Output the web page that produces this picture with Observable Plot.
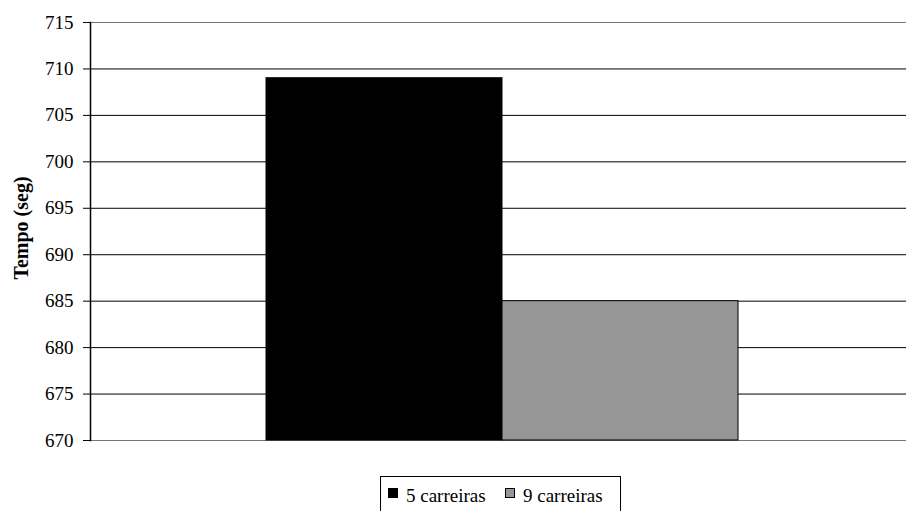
<!DOCTYPE html>
<html>
<head>
<meta charset="utf-8">
<script src="https://cdn.jsdelivr.net/npm/d3@7"></script>
<script src="https://cdn.jsdelivr.net/npm/@observablehq/plot@0.6"></script>
<style>
  body { margin: 0; background: #fff; }
  #wrap { position: relative; width: 906px; height: 511px; overflow: hidden; font-family: "Liberation Serif", "Times New Roman", "DejaVu Serif", serif; }
  #wrap svg, #wrap svg text { font-family: "Liberation Serif", "Times New Roman", "DejaVu Serif", serif !important; }
  #legend { position: absolute; left: 380px; top: 476px; width: 241px; height: 40px; border: 1px solid #000; box-sizing: border-box; font-size: 19px; color: #000; white-space: nowrap; }
  #legend span.sw { display: inline-block; width: 10px; height: 10px; border: 1px solid #000; box-sizing: border-box; margin-right: 8px; vertical-align: 4px; }
  #legend .item { position: absolute; top: 9px; line-height: 19px; }
</style>
</head>
<body>
<div id="wrap">
  <div id="chart"></div>
  <div id="legend"></div>
</div>
<script>
const categories = ["5 carreiras", "9 carreiras"];
const values = [709, 685];
const colors = ["#000000", "#969696"];
const yTicks = [670, 675, 680, 685, 690, 695, 700, 705, 710, 715];
const yLabel = "Tempo (seg)";

const data = categories.map((c, i) => ({category: c, value: values[i]}));

const chart = Plot.plot({
  width: 906,
  height: 450,
  marginTop: 22,
  marginBottom: 10,
  marginLeft: 90,
  marginRight: 0,
  style: {fontFamily: "'Liberation Serif', 'Times New Roman', serif", fontSize: "19px", color: "#000", background: "#fff"},
  x: {domain: categories, paddingInner: 0, paddingOuter: 0.722, align: 0.512, axis: null},
  y: {domain: [670, 715], ticks: yTicks, label: null},
  color: {domain: categories, range: colors},
  marks: [
    Plot.ruleY(yTicks, {stroke: d => (d === 670 || d === 715) ? "#777" : "#000", strokeWidth: 1}),
    Plot.barY(data, {x: "category", y1: 670, y2: "value", fill: "category", stroke: "#000", strokeWidth: 1, inset: 0}),
    Plot.frame({anchor: "left", stroke: "#000", strokeWidth: 1.5}),
    Plot.axisY({ticks: yTicks, tickSize: 7, tickPadding: 10, label: null, fontSize: 19}),
  ]
});
document.getElementById("chart").appendChild(chart);

// Rotated y-axis title
const svg = d3.select(chart);
svg.append("text")
  .attr("transform", `translate(28, ${(22 + 440) / 2 - 3}) rotate(-90)`)
  .attr("text-anchor", "middle")
  .attr("font-weight", "bold")
  .attr("font-size", 20)
  .attr("fill", "#000")
  .text(yLabel);

// Legend
const legend = d3.select("#legend");
const offsets = [7, 124];
categories.forEach((c, i) => {
  const it = legend.append("div").attr("class", "item").style("left", offsets[i] + "px");
  it.append("span").attr("class", "sw").style("background", colors[i]);
  it.append("span").text(c);
});
</script>
</body>
</html>
